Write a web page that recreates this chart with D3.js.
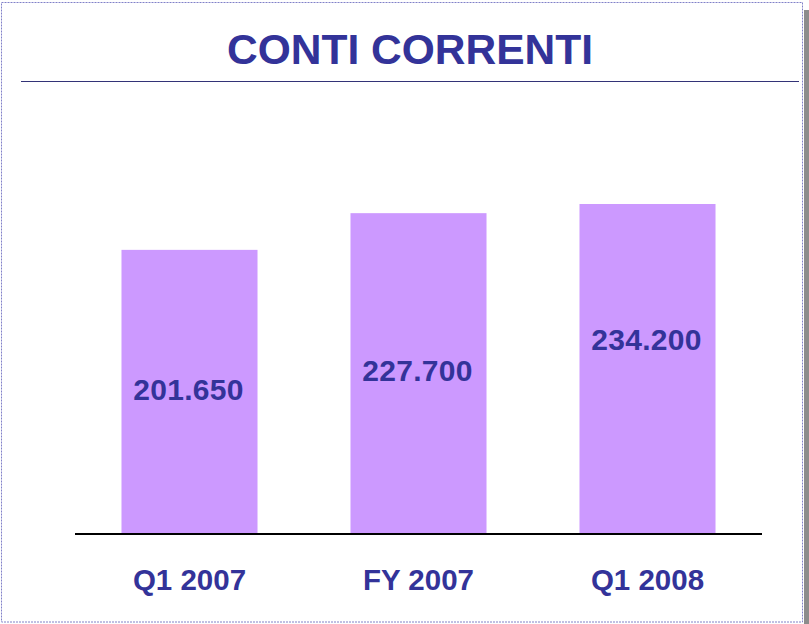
<!DOCTYPE html>
<html>
<head>
<meta charset="utf-8">
<script src="https://cdn.jsdelivr.net/npm/d3@7"></script>
<style>
  html, body { margin: 0; padding: 0; background: #ffffff; }
  svg { display: block; }
</style>
</head>
<body>
<div id="chart"></div>
<script>
// ---- data ----
const title = "CONTI CORRENTI";
const categories = ["Q1 2007", "FY 2007", "Q1 2008"];
const values = [201650, 227700, 234200];
const valueLabels = ["201.650", "227.700", "234.200"];

// ---- layout ----
const W = 809, H = 624;
const baseY = 534;
const textColor = "#333399";
const barColor = "#CC99FF";
const labelFrac = [0.51, 0.51, 0.59];

const svg = d3.select("#chart").append("svg")
  .attr("width", W).attr("height", H);

svg.append("rect").attr("width", W).attr("height", H).attr("fill", "#fff");

// shadow on the right
svg.append("rect")
  .attr("x", 804).attr("y", 10).attr("width", 5).attr("height", H - 10)
  .attr("fill", "#8c8c8c");

// dashed frame
svg.append("rect")
  .attr("x", 1.5).attr("y", 2.5).attr("width", 801).attr("height", 619.5)
  .attr("fill", "none").attr("stroke", "#8080c8").attr("stroke-width", 1)
  .attr("stroke-dasharray", "2,1");

// title
svg.append("text")
  .attr("x", 410).attr("y", 64)
  .attr("text-anchor", "middle")
  .attr("font-family", "Liberation Sans, Arial, sans-serif")
  .attr("font-weight", "bold").attr("font-size", 42.5)
  .attr("fill", textColor)
  .text(title);

svg.append("line")
  .attr("x1", 21).attr("x2", 799).attr("y1", 81.5).attr("y2", 81.5)
  .attr("stroke", "#333377").attr("stroke-width", 1.2);

// scales
const x = d3.scaleBand().domain(categories).range([75, 762])
  .paddingInner(0.406).paddingOuter(0.203);
const y = d3.scaleLinear().domain([0, 234200]).range([baseY, 204]);

// bars
svg.selectAll("rect.bar").data(values).join("rect")
  .attr("class", "bar")
  .attr("x", (d, i) => x(categories[i]))
  .attr("width", x.bandwidth())
  .attr("y", d => y(d))
  .attr("height", d => baseY - y(d))
  .attr("fill", barColor);

// value labels
svg.selectAll("text.val").data(values).join("text")
  .attr("class", "val")
  .attr("x", (d, i) => x(categories[i]) + x.bandwidth() / 2 - 1)
  .attr("y", (d, i) => y(d * labelFrac[i]))
  .attr("dy", "0.36em")
  .attr("text-anchor", "middle")
  .attr("font-family", "Liberation Sans, Arial, sans-serif")
  .attr("font-weight", "bold").attr("font-size", 30)
  .attr("letter-spacing", 0.3)
  .attr("fill", textColor)
  .text((d, i) => valueLabels[i]);

// baseline axis
const axis = d3.axisBottom(x).tickSize(0).tickPadding(35);
const g = svg.append("g").attr("transform", `translate(0,${baseY})`).call(axis);
g.select(".domain").attr("stroke", "#000").attr("stroke-width", 2)
  .attr("d", "M75,0H762");
g.selectAll("text")
  .attr("font-family", "Liberation Sans, Arial, sans-serif")
  .attr("font-weight", "bold").attr("font-size", 29.5)
  .attr("fill", textColor);
</script>
</body>
</html>
